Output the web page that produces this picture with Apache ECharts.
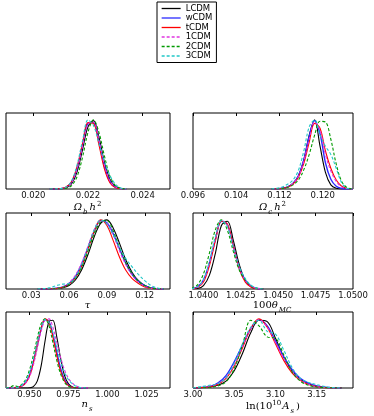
<!DOCTYPE html>
<html>
<head>
<meta charset="utf-8">
<script src="https://cdn.jsdelivr.net/npm/echarts@6/dist/echarts.min.js"></script>
<style>
html,body{margin:0;padding:0;background:#fff}
#main{width:374px;height:416px}
</style>
</head>
<body>
<div id="main"></div>
<script>
var models = ['LCDM', 'wCDM', 'tCDM', '1CDM', '2CDM', '3CDM'];

// Omega_b h^2 (rows follow models)
var ombX = [0.0206,0.0208,0.0210,0.0212,0.0214,0.0216,0.0218,0.0220,0.0222,0.0224,0.0226,0.0228,0.0230,0.0232,0.0234];
var ombY = [
  [0,0.001,0.003,0.016,0.076,0.25,0.57,0.90,0.99,0.75,0.39,0.14,0.036,0.006,0],
  [0,0.001,0.005,0.025,0.10,0.30,0.64,0.95,0.96,0.68,0.33,0.11,0.028,0.005,0],
  [0,0.001,0.006,0.03,0.11,0.32,0.66,0.96,0.95,0.64,0.29,0.09,0.02,0.003,0],
  [0,0.001,0.004,0.022,0.09,0.29,0.62,0.94,0.97,0.70,0.35,0.12,0.03,0.005,0],
  [0,0,0.002,0.01,0.05,0.18,0.46,0.82,1.0,0.82,0.48,0.19,0.05,0.01,0],
  [0,0.001,0.006,0.03,0.12,0.35,0.70,1.0,0.92,0.66,0.40,0.20,0.07,0.015,0]
];

// Omega_c h^2
var omcX = [0.1105,0.1115,0.1125,0.1135,0.1145,0.1155,0.1165,0.1175,0.1185,0.1195,0.1205,0.1215,0.1225,0.1235,0.1245,0.1255];
var omcY = [
  [0,0.003,0.01,0.03,0.08,0.19,0.42,0.78,1.0,0.62,0.24,0.06,0.01,0,0,0],
  [0,0.003,0.01,0.03,0.08,0.19,0.42,0.76,0.99,0.80,0.38,0.14,0.04,0.008,0,0],
  [0,0.002,0.008,0.025,0.07,0.17,0.37,0.68,0.95,0.88,0.55,0.30,0.13,0.04,0.008,0],
  [0,0.003,0.01,0.03,0.08,0.18,0.40,0.72,0.97,0.85,0.50,0.26,0.11,0.03,0.006,0],
  [0,0.002,0.008,0.025,0.06,0.13,0.28,0.50,0.78,0.98,0.97,0.72,0.36,0.11,0.02,0],
  [0,0.01,0.03,0.07,0.13,0.27,0.55,0.90,1.0,0.78,0.62,0.50,0.30,0.09,0.01,0]
];

// tau
var tauX = [0.035,0.040,0.045,0.050,0.055,0.060,0.065,0.070,0.075,0.080,0.085,0.090,0.095,0.100,0.105,0.110,0.115,0.120,0.125,0.130,0.135];
var tauY = [
  [0,0,0.002,0.006,0.02,0.05,0.13,0.28,0.50,0.76,0.95,1.0,0.88,0.66,0.42,0.24,0.12,0.05,0.015,0.004,0],
  [0,0,0.003,0.01,0.03,0.08,0.18,0.36,0.60,0.84,0.99,0.96,0.80,0.58,0.37,0.21,0.11,0.05,0.015,0.004,0],
  [0,0,0.002,0.008,0.025,0.07,0.16,0.33,0.58,0.84,1.0,0.92,0.70,0.46,0.27,0.15,0.08,0.03,0.008,0.001,0],
  [0,0,0.003,0.01,0.03,0.09,0.20,0.38,0.62,0.86,0.99,0.95,0.78,0.55,0.35,0.20,0.10,0.04,0.012,0.003,0],
  [0,0,0.002,0.008,0.025,0.07,0.16,0.32,0.55,0.80,0.97,0.99,0.84,0.60,0.38,0.22,0.11,0.05,0.015,0.004,0],
  [0,0.005,0.02,0.05,0.07,0.08,0.17,0.35,0.60,0.86,1.0,0.94,0.78,0.60,0.44,0.32,0.21,0.12,0.05,0.015,0]
];

// 100 theta_MC
var thX = [1.0392,1.0396,1.0400,1.0404,1.0408,1.0412,1.0416,1.0420,1.0424,1.0428,1.0432,1.0436,1.0440];
var thY = [
  [0,0.006,0.05,0.20,0.52,0.92,0.98,0.70,0.35,0.12,0.03,0.005,0],
  [0.005,0.03,0.13,0.38,0.72,0.98,0.93,0.62,0.30,0.13,0.04,0.008,0],
  [0.002,0.02,0.10,0.34,0.70,0.98,0.94,0.62,0.29,0.10,0.025,0.004,0],
  [0.003,0.025,0.12,0.37,0.73,0.99,0.92,0.60,0.30,0.12,0.04,0.008,0],
  [0.01,0.06,0.22,0.52,0.86,1.0,0.85,0.54,0.27,0.13,0.045,0.01,0],
  [0.005,0.03,0.14,0.40,0.76,0.99,0.90,0.60,0.32,0.15,0.05,0.01,0]
];

// n_s
var nsX = [0.935,0.9375,0.940,0.9425,0.945,0.9475,0.950,0.9525,0.955,0.9575,0.960,0.9625,0.965,0.9675,0.970,0.9725,0.975,0.9775,0.980,0.9825,0.985,0.9875];
var nsY = [
  [0,0,0,0,0,0,0.003,0.02,0.10,0.32,0.68,0.96,0.98,0.74,0.42,0.18,0.06,0.015,0.003,0,0,0],
  [0,0,0.005,0.01,0.03,0.08,0.19,0.38,0.62,0.85,0.99,0.96,0.78,0.52,0.28,0.12,0.04,0.01,0.002,0,0,0],
  [0,0,0.003,0.008,0.025,0.07,0.17,0.36,0.62,0.87,1.0,0.95,0.74,0.47,0.24,0.10,0.035,0.01,0.002,0,0,0],
  [0,0,0.003,0.01,0.03,0.07,0.16,0.33,0.57,0.82,0.98,1.0,0.88,0.66,0.44,0.26,0.14,0.07,0.03,0.01,0.002,0],
  [0,0.01,0.035,0.02,0.05,0.12,0.26,0.47,0.72,0.93,1.0,0.90,0.66,0.40,0.20,0.08,0.025,0.006,0.001,0,0,0],
  [0,0,0.004,0.012,0.04,0.10,0.22,0.42,0.66,0.88,0.99,0.95,0.80,0.58,0.38,0.22,0.12,0.06,0.025,0.008,0.002,0]
];

// ln(10^10 A_s)
var asX = [3.00,3.01,3.02,3.03,3.04,3.05,3.06,3.07,3.08,3.09,3.10,3.11,3.12,3.13,3.14,3.15,3.16,3.17,3.18];
var asY = [
  [0,0.005,0.015,0.04,0.10,0.25,0.50,0.80,0.98,0.96,0.72,0.45,0.25,0.13,0.06,0.025,0.008,0.002,0],
  [0,0.008,0.02,0.07,0.18,0.38,0.62,0.86,0.99,0.90,0.68,0.45,0.27,0.14,0.07,0.03,0.01,0.002,0],
  [0,0.005,0.015,0.05,0.14,0.32,0.58,0.86,1.0,0.88,0.64,0.40,0.22,0.11,0.05,0.02,0.006,0.001,0],
  [0,0.01,0.03,0.06,0.15,0.34,0.60,0.86,0.99,0.88,0.66,0.43,0.25,0.12,0.055,0.02,0.006,0.001,0],
  [0,0.003,0.01,0.03,0.09,0.28,0.62,0.98,0.90,0.74,0.72,0.48,0.24,0.10,0.04,0.015,0.005,0.001,0],
  [0,0.02,0.04,0.06,0.15,0.36,0.64,0.88,0.98,0.82,0.78,0.55,0.30,0.14,0.08,0.05,0.02,0.005,0]
];

// tick labels per panel
var ombTicks = [0.020, 0.022, 0.024];
var omcTicks = [0.096, 0.104, 0.112, 0.120];
var tauTicks = [0.03, 0.06, 0.09, 0.12];
var thTicks = [1.0400, 1.0425, 1.0450, 1.0475, 1.0500];
var nsTicks = [0.950, 0.975, 1.000, 1.025];
var asTicks = [3.00, 3.05, 3.10, 3.15];

var lineColors = ['#000000', '#2a2aff', '#ff0000', '#e035e0', '#009a00', '#20c8c8'];
var lineTypes = ['solid', 'solid', 'solid', [3, 2], [3, 2], [3, 2]];

var panels = [
  {x: ombX, y: ombY, ticks: ombTicks, dec: 3, min: 0.019, max: 0.025, left: 6, top: 113, width: 164,
   name: '{m|Ω}{s|b}{m|h}{p|2}'},
  {x: omcX, y: omcY, ticks: omcTicks, dec: 3, min: 0.096, max: 0.1256, left: 193, top: 113, width: 160,
   name: '{m|Ω}{s|c}{m|h}{p|2}'},
  {x: tauX, y: tauY, ticks: tauTicks, dec: 2, min: 0.01, max: 0.14, left: 6, top: 213, width: 164,
   name: '{m|τ}'},
  {x: thX, y: thY, ticks: thTicks, dec: 4, min: 1.0393, max: 1.0500, left: 193, top: 213, width: 160,
   name: '{r|100}{m|θ}{s|MC}'},
  {x: nsX, y: nsY, ticks: nsTicks, dec: 3, min: 0.935, max: 1.040, left: 6, top: 312, width: 164,
   name: '{m|n}{s|s}'},
  {x: asX, y: asY, ticks: asTicks, dec: 2, min: 3.00, max: 3.194, left: 193, top: 312, width: 160,
   name: '{r|ln(10}{p|10}{m|A}{s|s}{r|)}'}
];

var nameRich = {
  m: {fontFamily: 'DejaVu Serif', fontStyle: 'italic', fontSize: 10, color: '#000', verticalAlign: 'bottom', padding: [0, 1, 3, 0]},
  r: {fontFamily: 'DejaVu Serif', fontSize: 10, color: '#000', verticalAlign: 'bottom', padding: [0, 0, 3, 0]},
  s: {fontFamily: 'DejaVu Serif', fontStyle: 'italic', fontSize: 7, color: '#000', verticalAlign: 'bottom', padding: [0, 2, 0, 0]},
  p: {fontFamily: 'DejaVu Serif', fontSize: 7, color: '#000', verticalAlign: 'bottom', padding: [0, 1, 8, 0]}
};

var grids = [], xAxes = [], yAxes = [], series = [];
panels.forEach(function (p, g) {
  grids.push({left: p.left, top: p.top, width: p.width, height: 76, show: true,
    borderColor: '#000', borderWidth: 1, backgroundColor: 'transparent'});
  xAxes.push({
    type: 'value', gridIndex: g, position: 'bottom', min: p.min, max: p.max,
    name: p.name, nameLocation: 'middle', nameGap: 11,
    nameTextStyle: {rich: nameRich},
    axisLine: {show: false}, splitLine: {show: false},
    axisTick: {show: false},
    axisLabel: {
      customValues: p.ticks, margin: 2, fontSize: 8.5, fontFamily: 'DejaVu Sans', color: '#111',
      formatter: function (v) { return v.toFixed(p.dec); }
    }
  });
  xAxes.push({
    type: 'value', gridIndex: g, position: 'top', min: p.min, max: p.max,
    axisLine: {show: false}, splitLine: {show: false}, axisLabel: {show: false},
    axisTick: {show: true, inside: true, length: 3, customValues: p.ticks, lineStyle: {color: '#000'}}
  });
  yAxes.push({
    type: 'value', gridIndex: g, min: 0, max: 1.1,
    axisLine: {show: false}, axisTick: {show: false}, axisLabel: {show: false}, splitLine: {show: false}
  });
  models.forEach(function (m, k) {
    series.push({
      name: m, type: 'line', xAxisIndex: 2 * g, yAxisIndex: g,
      smooth: 0.35, symbol: 'none', silent: true,
      lineStyle: {color: lineColors[k], width: k === 1 ? 1.4 : 1.1, type: lineTypes[k]},
      itemStyle: {color: lineColors[k]},
      data: p.x.map(function (xv, i) { return [xv, p.y[k][i]]; })
    });
  });
});

var chart = echarts.init(document.getElementById('main'), null, {renderer: 'canvas'});
chart.setOption({
  animation: false,
  backgroundColor: '#fff',
  legend: {
    data: models, orient: 'vertical', left: 157, top: 2,
    padding: [2, 4, 2, 4], itemWidth: 19, itemHeight: 8, itemGap: 0.5,
    borderColor: '#000', borderWidth: 1,
    itemStyle: {opacity: 0},
    lineStyle: {width: 1.3},
    textStyle: {fontSize: 8.5, fontFamily: 'DejaVu Sans', color: '#000', lineHeight: 8}
  },
  grid: grids,
  xAxis: xAxes,
  yAxis: yAxes,
  series: series
});
</script>
</body>
</html>
